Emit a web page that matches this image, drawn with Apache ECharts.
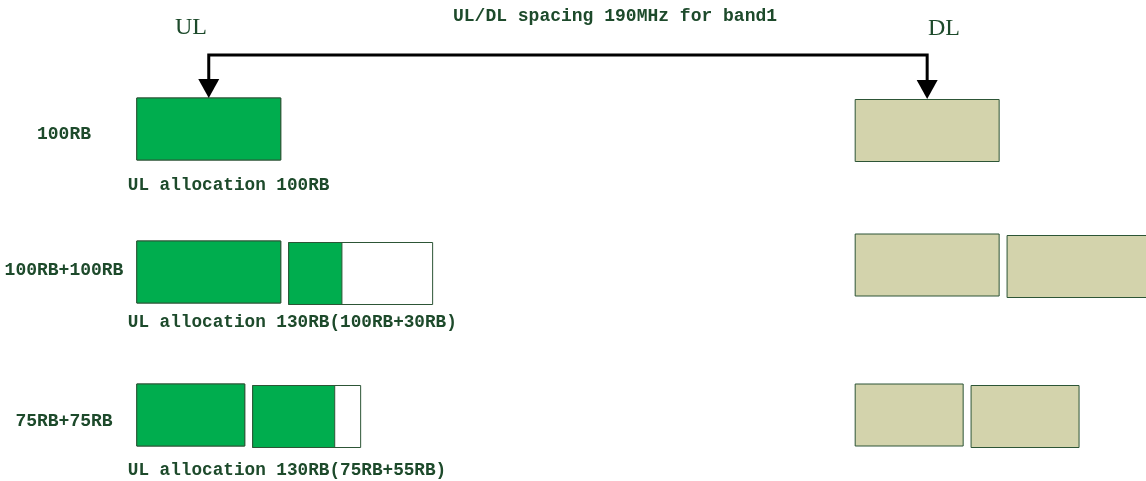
<!DOCTYPE html>
<html>
<head>
<meta charset="utf-8">
<script src="https://cdn.jsdelivr.net/npm/echarts@6/dist/echarts.min.js"></script>
<style>html,body{margin:0;padding:0;background:#fff}#c{width:1146px;height:481px}</style>
</head>
<body>
<div id="c"></div>
<script>
// ---- data ----
const rowLabels = ['100RB', '100RB+100RB', '75RB+75RB'];
const captions = ['UL allocation 100RB', 'UL allocation 130RB(100RB+30RB)', 'UL allocation 130RB(75RB+55RB)'];
const ulCarrierRB = [[100], [100, 100], [75, 75]];
const ulAllocRB = [[100], [100, 37], [75, 57]];
const dlCarrierRB = [[100], [100, 100], [75, 75]];
const titleText = 'UL/DL spacing 190MHz for band1';
const ulText = 'UL';
const dlText = 'DL';

// ---- layout (styling) ----
const GAP_RB = 5.5;       // gap between carriers
const DL_START_RB = 499;  // where DL block drawn on the axis
const BLOCK_H = 62;
const DL_NUDGE = [1.5, -7, 0];
const LABEL_DY = [5, -2, 6];
const CAPTION_DY = [57, 51, 56];
const TXT = '#1d4a2b';
const BORDER = '#2d5536';
const GREEN = '#00ad4e';
const TAN = '#d3d3ac';
const FONT = '"Liberation Mono", monospace';

const chart = echarts.init(document.getElementById('c'), null, {renderer: 'canvas'});

function blocks(api, row, carriers, alloc, startRB, fillFull, nudge) {
  const out = [];
  let pos = startRB;
  const unit = api.size([1, 0])[0];
  const yc = api.coord([0, row])[1];
  carriers.forEach((w, i) => {
    const x = api.coord([pos, row])[0];
    const dy = (i > 0 ? 1.5 : 0) + nudge;
    const y = yc - BLOCK_H / 2 + dy;
    out.push({type: 'rect', shape: {x: x, y: y, width: w * unit, height: BLOCK_H},
      style: {fill: fillFull, stroke: BORDER, lineWidth: 1}});
    if (alloc) {
      out.push({type: 'rect', shape: {x: x, y: y, width: alloc[i] * unit, height: BLOCK_H},
        style: {fill: GREEN, stroke: BORDER, lineWidth: 1}});
    }
    pos += w + GAP_RB;
  });
  return out;
}

const rowIdx = rowLabels.map((_, i) => i);

chart.setOption({
  animation: false,
  grid: {left: 0, right: 0, top: 0, bottom: 0},
  xAxis: {type: 'value', min: -95, max: 701, show: false},
  yAxis: {type: 'value', min: -129 / 143, max: -129 / 143 + 481 / 143, inverse: true, show: false},
  graphic: [
    {type: 'text', left: 453, top: 7, style: {text: titleText, font: 'bold 18px ' + FONT, fill: TXT}},
    {type: 'text', left: 175, top: 16, style: {text: ulText, font: '24px "Liberation Serif", serif', fill: TXT}},
    {type: 'text', left: 928, top: 17, style: {text: dlText, font: '24px "Liberation Serif", serif', fill: TXT}}
  ],
  series: [
    {
      type: 'custom',
      data: rowIdx.map(i => [i]),
      renderItem: function (params, api) {
        const row = api.value(0);
        const yc = api.coord([0, row])[1];
        const x0 = api.coord([0, row])[0];
        const children = [];
        children.push(...blocks(api, row, ulCarrierRB[row], ulAllocRB[row], 0, '#ffffff', 0));
        children.push(...blocks(api, row, dlCarrierRB[row], null, DL_START_RB, TAN, DL_NUDGE[row]));
        children.push({type: 'text', style: {text: rowLabels[row], x: 64, y: yc + LABEL_DY[row],
          align: 'center', verticalAlign: 'middle', font: 'bold 18px ' + FONT, fill: TXT}});
        children.push({type: 'text', style: {text: captions[row], x: x0 - 9, y: yc + CAPTION_DY[row],
          align: 'left', verticalAlign: 'middle', font: 'bold 17.7px ' + FONT, fill: TXT}});
        return {type: 'group', children: children};
      }
    },
    {
      type: 'custom',
      data: [[0]],
      renderItem: function (params, api) {
        const ulW = ulCarrierRB[0][0], dlW = dlCarrierRB[0][0];
        const xa = api.coord([ulW / 2, 0])[0];
        const xb = api.coord([DL_START_RB + dlW / 2, 0])[0];
        const top = api.coord([0, 0])[1] - BLOCK_H / 2;
        const yl = top - 43;
        const tipA = top, tipB = top + 1;
        const th = 19, tw = 10.5;
        return {type: 'group', children: [
          {type: 'polyline', shape: {points: [[xa, tipA - th + 1], [xa, yl], [xb, yl], [xb, tipB - th + 1]]},
            style: {stroke: '#000', lineWidth: 3, fill: null}},
          {type: 'polygon', shape: {points: [[xa - tw, tipA - th], [xa + tw, tipA - th], [xa, tipA]]}, style: {fill: '#000'}},
          {type: 'polygon', shape: {points: [[xb - tw, tipB - th], [xb + tw, tipB - th], [xb, tipB]]}, style: {fill: '#000'}}
        ]};
      }
    }
  ]
});
</script>
</body>
</html>
